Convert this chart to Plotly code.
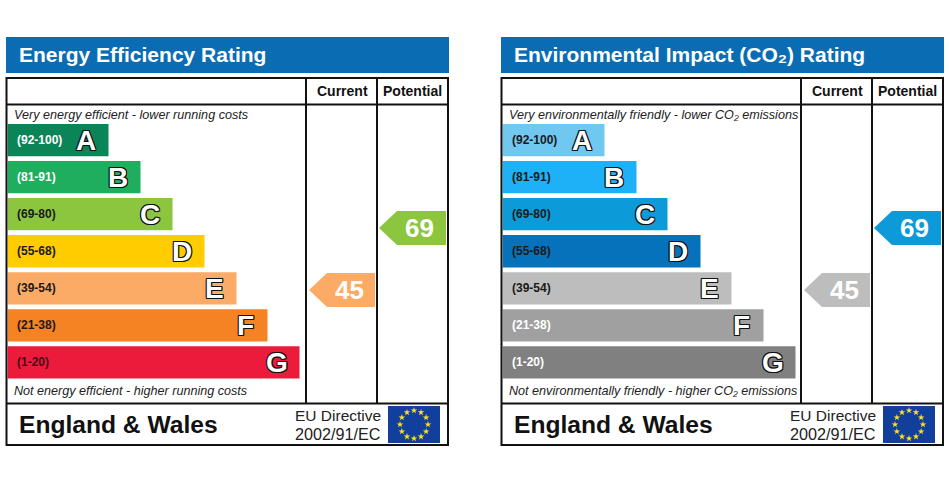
import numpy as np
import plotly.graph_objects as go

# values
grades = ["A", "B", "C", "D", "E", "F", "G"]
ranges = ["(92-100)", "(81-91)", "(69-80)", "(55-68)", "(39-54)", "(21-38)", "(1-20)"]
range_low = [92, 81, 69, 55, 39, 21, 1]
energy_lengths = [101, 133, 165, 197, 229, 260, 292]
impact_lengths = [102, 134, 165, 198, 229, 261, 293]
energy_colors = ["#0b8457", "#1fad5e", "#8cc63f", "#ffcc00", "#fbab66", "#f58223", "#ed1b3b"]
impact_colors = ["#70c8f0", "#1fb1f8", "#0d9ad8", "#0672bc", "#bdbdbd", "#a0a0a0", "#808080"]
energy_label_colors = ["#ffffff", "#ffffff", "#1a1a1a", "#1a1a1a", "#1a1a1a", "#1a1a1a", "#4a0a14"]
impact_label_colors = ["#1a1a1a", "#1a1a1a", "#1a1a1a", "#1a1a1a", "#1a1a1a", "#ffffff", "#ffffff"]
current_rating = 45
potential_rating = 69

W, H = 950, 480
HEADER_BLUE = "#0a6db3"
OUTLINE = ",".join(f"{dx}px {dy}px 0 #111" for dx in (-1, 0, 1) for dy in (-1, 0, 1))

fig = go.Figure()
annotations = []
shapes = []


def note(x, y, text, size, color="#111111", anchor="left", bold=False, italic=False, shadow=None, axes=("x5", "y5")):
    font = dict(family="Liberation Sans", size=size, color=color,
                weight="bold" if bold else "normal", style="italic" if italic else "normal")
    if shadow:
        font["shadow"] = shadow
    annotations.append(dict(x=x, y=y, xref=axes[0], yref=axes[1], text=text, showarrow=False,
                            xanchor=anchor, yanchor="middle", font=font))


def line(x0, y0, x1, y1):
    shapes.append(dict(type="line", x0=x0, y0=y0, x1=x1, y1=y1, xref="x5", yref="y5",
                       line=dict(color="#111111", width=2), layer="above"))


def band_of(rating):
    for i, low in enumerate(range_low):
        if rating >= low:
            return i
    return len(range_low) - 1


def arrow(x0, x1, yc, color, value):
    tip = 18
    half = 17
    fig.add_trace(go.Scatter(x=[x0, x0 + tip, x1, x1, x0 + tip, x0], y=[yc, yc - half, yc - half, yc + half, yc + half, yc],
                             xaxis="x5", yaxis="y5", mode="lines", fill="toself", fillcolor=color,
                             line=dict(width=0), hoverinfo="skip", showlegend=False))
    note((x0 + tip + x1) / 2 - 2, yc, str(value), 26, color="#ffffff", anchor="center", bold=True)


def panel(left, n, title, lengths, colors, label_colors, top_text, bottom_text):
    right = left + 442
    col1, col2 = left + 300, left + 371
    xa, ya = f"x{n}", f"y{n}"
    fig.add_trace(go.Bar(y=grades, x=lengths, orientation="h", marker=dict(color=colors, line=dict(width=0)),
                         xaxis=xa, yaxis=ya, hoverinfo="skip", showlegend=False))
    axis_x = dict(domain=[(left + 1.5) / W, col1 / W], range=[0, col1 - left - 1.5], visible=False, fixedrange=True)
    axis_y = dict(domain=[1 - 381 / H, 1 - 121.5 / H], categoryorder="array", categoryarray=grades[::-1],
                  visible=False, fixedrange=True)
    fig.update_layout({f"xaxis{n}": axis_x, f"yaxis{n}": axis_y})

    # header strip and frame
    shapes.append(dict(type="rect", x0=left, x1=right + 1, y0=37, y1=73, xref="x5", yref="y5",
                       fillcolor=HEADER_BLUE, line=dict(width=0), layer="below"))
    note(left + 11, 54.5, title, 21, color="#ffffff", bold=True)
    shapes.append(dict(type="rect", x0=left + 0.5, x1=right, y0=78, y1=445, xref="x5", yref="y5",
                       line=dict(color="#111111", width=2), layer="above"))
    line(left, 104.5, right, 104.5)
    line(left, 403.5, right, 403.5)
    line(col1, 78, col1, 403.5)
    line(col2, 78, col2, 403.5)
    note((col1 + col2) / 2 + 1, 91, "Current", 14, anchor="center", bold=True)
    note((col2 + right) / 2, 91, "Potential", 14, anchor="center", bold=True)
    note(left + 6, 114.5, top_text, 12.6, color="#222222", italic=True)
    note(left + 6, 391, bottom_text, 12.6, color="#222222", italic=True)

    # band labels
    for g, r, length, lc in zip(grades, ranges, lengths, label_colors):
        note(7, g, r, 12, color=lc, bold=True, axes=(xa, ya))
        note(length - 22.5, g, g, 28, color="#ffffff", anchor="center", bold=True, shadow=OUTLINE, axes=(xa, ya))

    # rating arrows
    arrow(col1 + 3, col2 - 2, 290, colors[band_of(current_rating)], current_rating)
    arrow(col2 + 2, right - 2, 228, colors[band_of(potential_rating)], potential_rating)

    # footer
    note(left + 11, 424, "England &amp; Wales", 24.6, color="#111111", bold=True)
    note(left + 377, 415, "EU Directive", 15.5, color="#222222", anchor="right")
    note(left + 377, 433.5, "2002/91/EC", 16.2, color="#222222", anchor="right")
    shapes.append(dict(type="rect", x0=left + 382, x1=left + 434, y0=406, y1=443, xref="x5", yref="y5",
                       fillcolor="#123f9c", line=dict(width=0), layer="below"))
    angles = np.arange(12) * np.pi / 6
    fig.add_trace(go.Scatter(x=left + 408 + 14 * np.sin(angles), y=424.5 - 14 * np.cos(angles), xaxis="x5", yaxis="y5",
                             mode="markers", marker=dict(symbol="star", size=5, color="#ffe11a", line=dict(width=0)),
                             hoverinfo="skip", showlegend=False))


panel(6, 1, "Energy Efficiency Rating", energy_lengths, energy_colors, energy_label_colors,
      "Very energy efficient - lower running costs", "Not energy efficient - higher running costs")
panel(501, 2, "Environmental Impact (CO₂) Rating", impact_lengths, impact_colors, impact_label_colors,
      "Very environmentally friendly - lower CO₂ emissions",
      "Not environmentally friendly - higher CO₂ emissions")

fig.update_layout(
    width=W, height=H, margin=dict(l=0, r=0, t=0, b=0),
    paper_bgcolor="white", plot_bgcolor="rgba(0,0,0,0)", bargap=0.13,
    xaxis5=dict(domain=[0, 1], range=[0, W], visible=False, fixedrange=True),
    yaxis5=dict(domain=[0, 1], range=[H, 0], visible=False, fixedrange=True),
    annotations=annotations, shapes=shapes, showlegend=False,
)

# page margin would push the fixed-size figure off by 8px
fig.write_html("out.html", config={"displayModeBar": False}, post_script="document.body.style.margin='0';")
